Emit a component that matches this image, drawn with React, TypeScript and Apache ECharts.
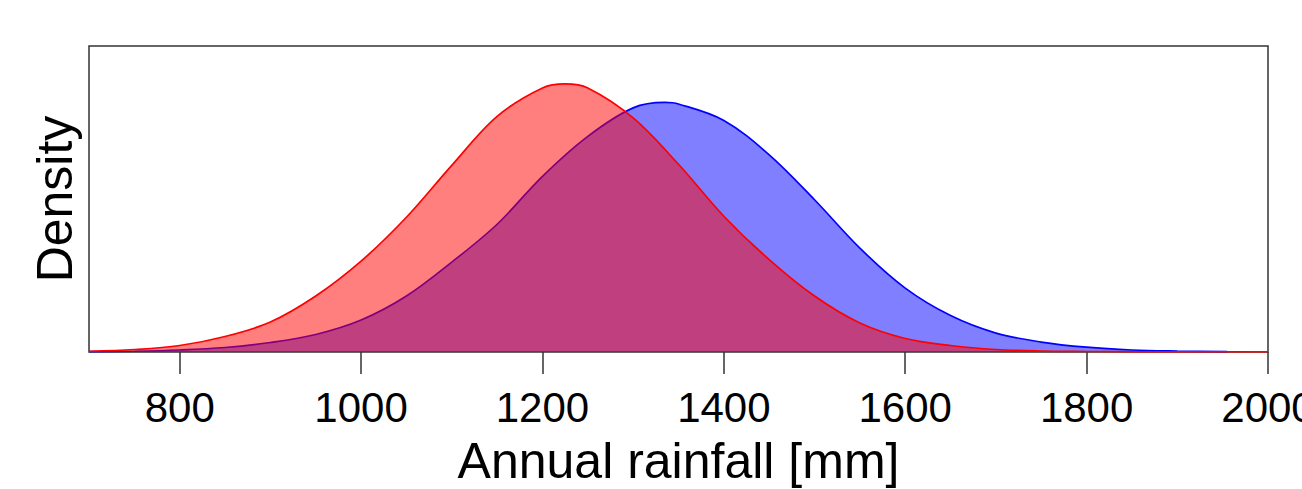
import React, { useEffect, useRef } from "react";
import * as echarts from "echarts";

// Annual rainfall (mm) sample positions and estimated kernel densities (per mm)
const redRainfall = [700, 750, 800, 850, 900, 950, 1000, 1050, 1100, 1150, 1200, 1225, 1250, 1300, 1350, 1400, 1450, 1500, 1550, 1600, 1650, 1700, 1750, 1800, 1850, 1900, 1950, 2000];
const redDensity = [0.000008, 0.000026, 0.000068, 0.000162, 0.000313, 0.000585, 0.00095, 0.001409, 0.001952, 0.002464, 0.002761, 0.002803, 0.002761, 0.002448, 0.001963, 0.00142, 0.000966, 0.000585, 0.000303, 0.000141, 0.000068, 0.000026, 0.00001, 0.000005, 0.000002, 0.000001, 0.0000005, 0.0000002];

const blueRainfall = [700, 750, 800, 850, 900, 950, 1000, 1050, 1100, 1150, 1200, 1250, 1300, 1335, 1350, 1400, 1450, 1500, 1550, 1600, 1650, 1700, 1750, 1800, 1850, 1900, 1955];
const blueDensity = [0.000003, 0.000008, 0.000021, 0.000047, 0.000099, 0.000183, 0.000334, 0.000585, 0.00094, 0.001336, 0.001837, 0.002255, 0.002553, 0.00261, 0.002594, 0.002422, 0.002062, 0.001592, 0.001086, 0.000668, 0.000381, 0.000198, 0.000104, 0.00005, 0.000021, 0.00001, 0.000004];

const xTicks = [800, 1000, 1200, 1400, 1600, 1800, 2000];
const xMin = 700;
const xMax = 2000;
const yMax = 0.0032;

const FONT = "'Liberation Sans', Arial, Helvetica, sans-serif";

export default function App() {
  const ref = useRef<HTMLDivElement>(null);
  useEffect(() => {
    if (!ref.current) return;
    const chart = echarts.init(ref.current, null, { renderer: "svg" });
    const pairs = (xs: number[], ys: number[]) => xs.map((x, i) => [x, ys[i]]);
    chart.setOption({
      animation: false,
      backgroundColor: "#ffffff",
      grid: {
        left: 89,
        right: 34,
        top: 46,
        bottom: 137,
        containLabel: false,
        outerBoundsMode: "none",
        show: true,
        borderColor: "#333333",
        borderWidth: 1.5,
        backgroundColor: "transparent",
      },
      xAxis: {
        type: "value",
        min: xMin,
        max: xMax,
        name: "Annual rainfall [mm]",
        nameLocation: "middle",
        nameGap: 84,
        nameTextStyle: { fontSize: 50, color: "#000", fontFamily: FONT, lineHeight: 50 },
        axisLine: { show: false },
        splitLine: { show: false },
        axisTick: {
          show: true,
          length: 22,
          customValues: xTicks,
          lineStyle: { color: "#333333", width: 1.5 },
        },
        axisLabel: {
          show: true,
          customValues: xTicks,
          formatter: (v: number) => String(v),
          margin: 34,
          fontSize: 42,
          lineHeight: 42,
          color: "#000",
          fontFamily: FONT,
          hideOverlap: false,
          showMaxLabel: true,
          showMinLabel: true,
        },
      },
      yAxis: {
        type: "value",
        min: 0,
        max: yMax,
        name: "Density",
        nameLocation: "middle",
        nameGap: 9,
        nameTextStyle: { fontSize: 50, color: "#000", fontFamily: FONT, lineHeight: 50 },
        axisLine: { show: false },
        axisTick: { show: false },
        axisLabel: { show: false },
        splitLine: { show: false },
      },
      series: [
        {
          type: "line",
          z: 2,
          data: pairs(blueRainfall, blueDensity),
          showSymbol: false,
          smooth: 0.35,
          lineStyle: { color: "#0000ff", width: 1.7 },
          areaStyle: { color: "rgba(0,0,255,0.5)", opacity: 1 },
          emphasis: { disabled: true },
        },
        {
          type: "line",
          z: 3,
          data: pairs(redRainfall, redDensity),
          showSymbol: false,
          smooth: 0.35,
          lineStyle: { color: "#ff0000", width: 1.7 },
          areaStyle: { color: "rgba(255,0,0,0.5)", opacity: 1 },
          emphasis: { disabled: true },
        },
      ],
    });
    return () => chart.dispose();
  }, []);
  return (
    <div
      ref={ref}
      style={{ position: "absolute", left: 0, top: 0, width: 1302, height: 489 }}
    />
  );
}
